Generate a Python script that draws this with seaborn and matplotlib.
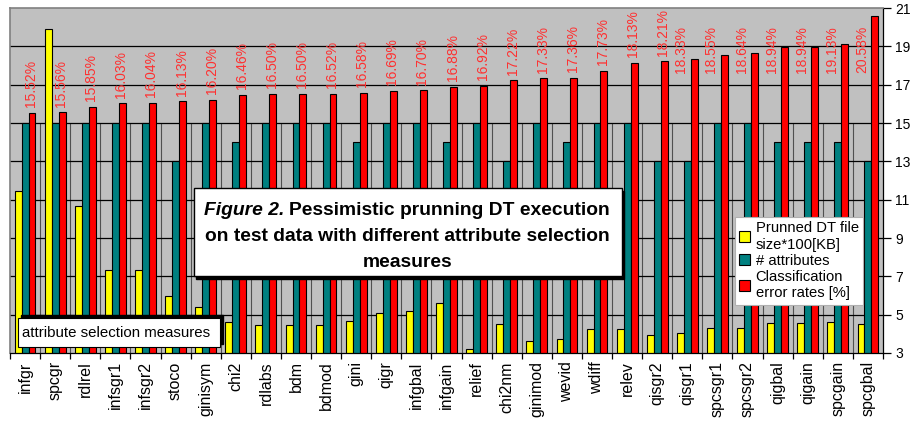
import matplotlib
matplotlib.use("Agg")
import matplotlib.pyplot as plt
from matplotlib.patches import Rectangle, Patch
import seaborn as sns
import pandas as pd
import numpy as np

# Attribute selection measures, ordered by classification error
measures = ["infgr", "spcgr", "rdlrel", "infsgr1", "infsgr2", "stoco", "ginisym",
            "chi2", "rdlabs", "bdm", "bdmod", "gini", "qigr", "infgbal", "infgain",
            "relief", "chi2nm", "ginimod", "wevid", "wdiff", "relev", "qisgr2",
            "qisgr1", "spcsgr1", "spcsgr2", "qigbal", "qigain", "spcgain", "spcgbal"]

# Pruned decision-tree file size (x100 KB)
file_size = [11.45, 19.9, 10.65, 7.35, 7.35, 5.96, 5.38, 4.62, 4.44, 4.44, 4.44,
             4.67, 5.1, 5.17, 5.63, 3.21, 4.5, 3.61, 3.75, 4.27, 4.27, 3.92, 4.06,
             4.32, 4.32, 4.57, 4.57, 4.63, 4.5]

# Number of attributes used in the tree
n_attributes = [15, 15, 15, 15, 15, 13, 15, 14, 15, 15, 15, 14, 15, 15, 14,
                15, 13, 15, 14, 15, 15, 13, 13, 15, 15, 14, 14, 14, 13]

# Classification error rates [%]
error_rate = [15.52, 15.56, 15.85, 16.03, 16.04, 16.13, 16.20, 16.46, 16.50, 16.50,
              16.52, 16.58, 16.69, 16.70, 16.88, 16.92, 17.22, 17.33, 17.36, 17.73,
              18.13, 18.21, 18.33, 18.55, 18.64, 18.94, 18.94, 19.13, 20.58]

series_names = ["Prunned DT file\nsize*100[KB]", "# attributes",
                "Classification\nerror rates [%]"]
series_colors = ["#FFFF00", "#008080", "#FF0000"]

y_ticks = [3, 5, 7, 9, 11, 13, 15, 17, 19, 21]

df = pd.DataFrame({
    "measure": measures * 3,
    "series": [series_names[0]] * len(measures) + [series_names[1]] * len(measures)
              + [series_names[2]] * len(measures),
    "value": file_size + n_attributes + error_rate,
})

plt.rcParams["font.family"] = ["Liberation Sans", "DejaVu Sans"]

W, H = 912, 424
fig = plt.figure(figsize=(W / 100, H / 100), dpi=100)
fig.patch.set_facecolor("white")


def px(x0, y0, x1, y1):
    """Convert a pixel box (top-left origin) to figure fractions [l, b, w, h]."""
    return [x0 / W, 1 - y1 / H, (x1 - x0) / W, (y1 - y0) / H]


ax = fig.add_axes(px(10, 8, 883, 353))
ax.set_facecolor("#C0C0C0")
ax.set_axisbelow(True)

sns.barplot(data=df, x="measure", y="value", hue="series", order=measures,
            hue_order=series_names, palette=series_colors, saturation=1,
            width=0.69, edgecolor="black", linewidth=0.8, legend=False, ax=ax)

n = len(measures)
ax.set_xlim(-0.5, n - 0.5)
ax.set_ylim(3, 21)

# horizontal gridlines
for yv in y_ticks[1:-1]:
    ax.axhline(yv, color="black", lw=0.9, zorder=0.6)
# vertical separators between categories
bounds = np.arange(n - 1) + 0.5
ax.vlines(bounds, 3, 15, color="#505050", lw=0.8, zorder=0.5)

# axes styling
ax.yaxis.tick_right()
ax.set_yticks(y_ticks)
ax.set_yticklabels([str(t) for t in y_ticks], fontsize=10)
ax.tick_params(axis="y", direction="out", length=6, width=0.9, color="black", pad=3)
ax.set_xticks(range(n))
ax.set_xticklabels(measures, rotation=90, fontsize=11.5, va="top")
ax.tick_params(axis="x", which="major", length=0, pad=6)
ax.set_xticks(np.arange(n + 1) - 0.5, minor=True)
ax.tick_params(axis="x", which="minor", direction="out", length=4, width=0.9, color="black")
ax.set_xlabel("")
ax.set_ylabel("")
for side in ["top", "left"]:
    ax.spines[side].set_color("#808080")
    ax.spines[side].set_linewidth(1.2)
for side in ["right", "bottom"]:
    ax.spines[side].set_color("black")
    ax.spines[side].set_linewidth(0.9)

# percentage labels over the error-rate bars; those that would not fit
# under the top edge sit beside their bar instead
label_height = 2.55
for i, v in enumerate(error_rate):
    txt = f"{v:.2f}%"
    if v + 0.3 + label_height <= 21.1:
        ax.text(i + 0.2, v + 0.3, txt, rotation=90, ha="center", va="bottom",
                color="#FF3030", fontsize=10)
    else:
        ax.text(i - 0.2, 20.05, txt, rotation=90, ha="center", va="top",
                color="#FF3030", fontsize=10)

# legend
handles = [Patch(facecolor=c, edgecolor="black", linewidth=0.8) for c in series_colors]
leg = ax.legend(handles, series_names, loc="upper left",
                bbox_to_anchor=((735 - 10) / 873, 1 - (217 - 8) / 345),
                frameon=True, fancybox=False, fontsize=10.6, handlelength=0.75,
                handleheight=0.75, handletextpad=0.35, borderpad=0.3,
                labelspacing=0.15, borderaxespad=0)
leg.get_frame().set_edgecolor("#B0B0B0")
leg.get_frame().set_linewidth(0.8)
leg.get_frame().set_facecolor("white")
leg.get_frame().set_alpha(1)

# title box with drop shadow
tb = px(194, 188, 622, 276)
fig.patches.append(Rectangle((tb[0] + 2.5 / W, tb[1] - 2.5 / H), tb[2], tb[3],
                             transform=fig.transFigure, facecolor="black",
                             edgecolor="black", zorder=5))
fig.patches.append(Rectangle((tb[0], tb[1]), tb[2], tb[3], transform=fig.transFigure,
                             facecolor="white", edgecolor="black", lw=1.0, zorder=6))
title_fs = 13.9
fig.text(284 / W, 1 - 215 / H, "Figure 2.", ha="right", va="baseline",
         fontsize=title_fs, fontweight="bold", fontstyle="italic", zorder=7)
fig.text(289 / W, 1 - 215 / H, "Pessimistic prunning DT execution", ha="left",
         va="baseline", fontsize=title_fs, fontweight="bold", zorder=7)
fig.text(407 / W, 1 - 241 / H, "on test data with different attribute selection",
         ha="center", va="baseline", fontsize=title_fs, fontweight="bold", zorder=7)
fig.text(408 / W, 1 - 267 / H, "measures", ha="center", va="baseline",
         fontsize=title_fs, fontweight="bold", zorder=7)

# axis caption box
cb = px(18, 318, 220, 347)
fig.patches.append(Rectangle((cb[0] + 3 / W, cb[1] + 3 / H), cb[2], cb[3],
                             transform=fig.transFigure, facecolor="black",
                             edgecolor="black", zorder=5))
fig.patches.append(Rectangle((cb[0], cb[1]), cb[2], cb[3], transform=fig.transFigure,
                             facecolor="white", edgecolor="black", lw=0.8, zorder=6))
fig.text(22 / W, 1 - 333 / H, "attribute selection measures", ha="left", va="center",
         fontsize=10.8, zorder=7)

fig.savefig("out.png", dpi=100, facecolor="white")
